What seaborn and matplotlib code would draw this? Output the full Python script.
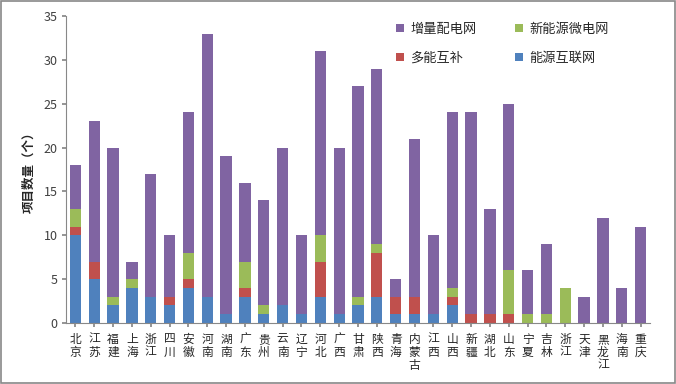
import numpy as np
import matplotlib
matplotlib.use("Agg")
import matplotlib.pyplot as plt
import seaborn as sns
from matplotlib.patches import Rectangle

sns.set_theme(style="white")
plt.rcParams['font.family'] = ['Noto Sans CJK SC', 'DejaVu Sans']

provinces = ["北京", "江苏", "福建", "上海", "浙江", "四川", "安徽", "河南", "湖南", "广东",
             "贵州", "云南", "辽宁", "河北", "广西", "甘肃", "陕西", "青海", "内蒙古", "江西",
             "山西", "新疆", "湖北", "山东", "宁夏", "吉林", "浙江", "天津", "黑龙江", "海南", "重庆"]
interconnect = [10, 5, 2, 4, 3, 2, 4, 3, 1, 3, 1, 2, 1, 3, 1, 2, 3, 1, 1, 1, 2, 0, 0, 0, 0, 0, 0, 0, 0, 0, 0]
multi_energy = [1, 2, 0, 0, 0, 1, 1, 0, 0, 1, 0, 0, 0, 4, 0, 0, 5, 2, 2, 0, 1, 1, 1, 1, 0, 0, 0, 0, 0, 0, 0]
microgrid = [2, 0, 1, 1, 0, 0, 3, 0, 0, 3, 1, 0, 0, 3, 0, 1, 1, 0, 0, 0, 1, 0, 0, 5, 1, 1, 4, 0, 0, 0, 0]
incremental = [5, 16, 17, 2, 14, 7, 16, 30, 18, 9, 12, 18, 9, 21, 19, 24, 20, 2, 18, 9, 20, 23, 12, 19, 5, 8, 0, 3, 12, 4, 11]

series_names = ["能源互联网", "多能互补", "新能源微电网", "增量配电网"]
colors = ["#4F81BD", "#C0504D", "#9BBB59", "#8064A2"]

fig = plt.figure(figsize=(6.76, 3.84), dpi=100)
ax = fig.add_axes([66/676, 1-323/384, (650-66)/676, (323-16)/384])

x = np.arange(len(provinces))
bottom = np.zeros(len(provinces))
handles = {}
for name, vals, c in zip(series_names, [interconnect, multi_energy, microgrid, incremental], colors):
    v = np.array(vals, dtype=float)
    h = ax.bar(x, v, bottom=bottom, width=0.6, color=c, label=name, linewidth=0)
    handles[name] = h
    bottom += v

ax.set_xlim(-0.5, len(provinces) - 0.5)
ax.set_ylim(0, 35)
ax.set_yticks(np.arange(0, 36, 5))
ax.tick_params(axis='y', labelsize=9, labelcolor='#404040', length=3, color='#888888', direction='out', left=True, pad=3)
ax.set_xticks(x)
ax.set_xticklabels(["\n".join(p) for p in provinces], fontsize=8.5, linespacing=1.0, va='top')
ax.tick_params(axis='x', length=3, color='#888888', direction='out', bottom=True, pad=4)
for s in ['top', 'right']:
    ax.spines[s].set_visible(False)
for s in ['left', 'bottom']:
    ax.spines[s].set_color('#888888')
    ax.spines[s].set_linewidth(0.8)

ax.set_ylabel("项目数量（个）", fontsize=9, fontweight='bold', labelpad=6)

order = ["增量配电网", "多能互补", "新能源微电网", "能源互联网"]
ax.legend([handles[n] for n in order], order, ncol=2, loc='upper right',
          bbox_to_anchor=(0.95, 1.017), frameon=False, fontsize=9.5,
          handlelength=0.6, handleheight=0.6, handletextpad=0.5,
          columnspacing=2.9, labelspacing=1.2)

fig.patches.append(Rectangle((0.001, 0.003), 0.997, 0.994, transform=fig.transFigure,
                             fill=False, edgecolor='#888888', linewidth=1.2))

fig.savefig("out.png", dpi=100)
